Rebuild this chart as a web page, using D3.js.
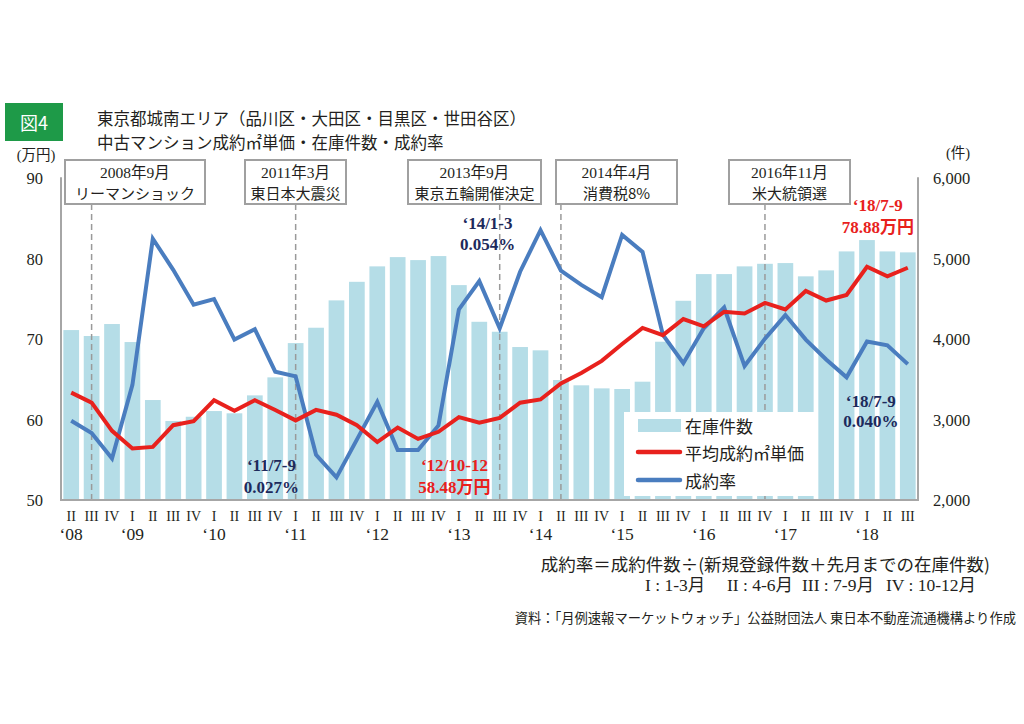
<!DOCTYPE html>
<html><head><meta charset="utf-8">
<script src="https://cdn.jsdelivr.net/npm/d3@7"></script>
<style>
html,body{margin:0;padding:0;background:#fff;}
svg{display:block;}
</style></head><body>
<svg id="chart" width="1024" height="724"></svg>
<script>
// ---------- data ----------
const quarterLabels = ["II","III","IV",
  "I","II","III","IV", "I","II","III","IV", "I","II","III","IV",
  "I","II","III","IV", "I","II","III","IV", "I","II","III","IV",
  "I","II","III","IV", "I","II","III","IV", "I","II","III","IV",
  "I","II","III"];
const yearLabels = ["‘08","‘09","‘10","‘11","‘12","‘13","‘14","‘15","‘16","‘17","‘18"];
const yearStartIndex = [0,3,7,11,15,19,23,27,31,35,39];

// 在庫件数 (件)
const stock = [4113,4039,4188,3964,3243,2982,3035,3106,3078,3301,
  3525,3951,4142,4482,4713,4905,5020,4983,5033,4672,
  4216,4092,3902,3861,3492,3426,3388,3380,3471,3968,
  4477,4809,4809,4905,4937,4946,4781,4855,5091,5232,
  5091,5079];
// 平均成約㎡単価 (万円)
const price = [63.35,62.1,58.6,56.4,56.6,59.3,59.8,62.4,61.1,62.4,
  61.2,59.9,61.2,60.6,59.3,57.2,59.0,57.6,58.48,60.3,
  59.6,60.2,62.1,62.5,64.5,65.8,67.3,69.4,71.4,70.5,
  72.5,71.6,73.4,73.2,74.5,73.7,76.0,74.8,75.5,79.0,
  77.8,78.88];
// 成約率 (%)
const rate = [0.0334,0.0321,0.0294,0.0372,0.0527,0.0494,0.0457,0.0463,0.0420,0.0431,
  0.0386,0.0381,0.0298,0.0274,0.0314,0.0354,0.0303,0.0303,0.0329,0.0452,
  0.0482,0.0432,0.0492,0.0536,0.0493,0.0478,0.0465,0.0531,0.0513,0.0425,
  0.0395,0.0432,0.0454,0.0392,0.0421,0.0446,0.0420,0.0399,0.0380,0.0418,
  0.0414,0.0394];

const leftTicks = [50,60,70,80,90];
const rightTicks = [2000,3000,4000,5000,6000];

const eventIndex = [1, 11, 21, 24, 34];
const eventDate = ["2008年9月","2011年3月","2013年9月","2014年4月","2016年11月"];
const eventName = ["リーマンショック","東日本大震災","東京五輪開催決定","消費税8%","米大統領選"];
const eventBox = [[65,205],[245,346],[408,541],[556,677],[729,850]];

const notes = [
  {i:13, dx:-65, l1:"‘11/7-9", l2:"0.027%", c:"navy"},
  {i:18, dx:16,  l1:"‘12/10-12", l2:"58.48万円", c:"red"},
  {i:23, dx:-53, l1:"‘14/1-3", l2:"0.054%", c:"navy", top:true},
  {i:41, dx:-30, l1:"‘18/7-9", l2:"78.88万円", c:"red", top2:true},
  {i:41, dx:-37, l1:"‘18/7-9", l2:"0.040%", c:"navy", mid:true}
];

// ---------- layout ----------
const L = 61, R = 918, T = 178.3, B = 500;
const C = {bar:"#b5dde7", red:"#e8211d", blue:"#4a7dbf", navy:"#1d2a5c", grid:"#a6a6a6", text:"#231f20", green:"#1e9a48"};
const serif = "'Liberation Serif','Times New Roman','Noto Sans CJK JP',serif";
const sans = "'Noto Sans CJK JP','Noto Sans',sans-serif";

const svg = d3.select("#chart");
const idx = d3.range(quarterLabels.length);
const x = d3.scaleBand().domain(idx).range([L, R]).paddingInner(0.23).paddingOuter(0.115);
const xc = i => x(i) + x.bandwidth()/2;
const yL = d3.scaleLinear().domain([50,90]).range([B, T]);
const yR = d3.scaleLinear().domain([2000,6000]).range([B, T]);
const yRate = d3.scaleLinear().domain([0.0250,0.0591]).range([B, T]);

// title
svg.append("rect").attr("x",5).attr("y",103).attr("width",58).attr("height",38).attr("fill",C.green);
svg.append("text").attr("x",34).attr("y",122).attr("text-anchor","middle").attr("dominant-baseline","central")
  .attr("font-family",sans).attr("font-size",18).attr("fill","#fff").text("図4");
svg.append("text").attr("x",97).attr("y",117.5).attr("dominant-baseline","central")
  .attr("font-family",sans).attr("font-size",16.5).attr("fill",C.text).text("東京都城南エリア（品川区・大田区・目黒区・世田谷区）");
svg.append("text").attr("x",97).attr("y",141.5).attr("dominant-baseline","central")
  .attr("font-family",sans).attr("font-size",16.5).attr("fill",C.text).text("中古マンション成約㎡単価・在庫件数・成約率");

// unit labels
svg.append("text").attr("x",36).attr("y",155).attr("text-anchor","middle").attr("dominant-baseline","central")
  .attr("font-family",serif).attr("font-size",14.5).attr("fill",C.text).text("(万円)");
svg.append("text").attr("x",958).attr("y",153).attr("text-anchor","middle").attr("dominant-baseline","central")
  .attr("font-family",serif).attr("font-size",14.5).attr("fill",C.text).text("(件)");

// bars
svg.append("g").selectAll("rect").data(idx).join("rect")
  .attr("x", i => x(i)).attr("width", x.bandwidth())
  .attr("y", i => yR(stock[i])).attr("height", i => B - yR(stock[i]))
  .attr("fill", C.bar);

// event dashed lines
svg.append("g").selectAll("line").data(eventIndex).join("line")
  .attr("x1", i => xc(i)).attr("x2", i => xc(i))
  .attr("y1", 204).attr("y2", B)
  .attr("stroke","#9a9a9a").attr("stroke-width",1.5).attr("stroke-dasharray","6,4");

// legend background (covers bars & dashed line)
const lg = svg.append("g");
lg.append("rect").attr("x",624).attr("y",412).attr("width",194).attr("height",84).attr("fill","#fff");

// lines
const lineP = d3.line().x(i => xc(i)).y(i => yL(price[i]));
const lineR = d3.line().x(i => xc(i)).y(i => yRate(rate[i]));
svg.append("path").attr("d", lineR(idx)).attr("fill","none").attr("stroke",C.blue).attr("stroke-width",4);
svg.append("path").attr("d", lineP(idx)).attr("fill","none").attr("stroke",C.red).attr("stroke-width",4);

// axes lines
svg.append("path").attr("d",`M${L},${T-1}V${B}H${R}V${T-1}`).attr("fill","none").attr("stroke",C.grid).attr("stroke-width",2);

// left ticks
const yAxisL = d3.axisLeft(yL).tickValues(leftTicks).tickSize(0).tickPadding(0);
const gl = svg.append("g").attr("transform",`translate(43,0)`).call(yAxisL);
gl.select(".domain").remove();
gl.selectAll("text").attr("font-family",serif).attr("font-size",16.5).attr("fill",C.text).attr("dy",null).attr("dominant-baseline","central");

// right ticks
const yAxisR = d3.axisRight(yR).tickValues(rightTicks).tickSize(0).tickPadding(0).tickFormat(d3.format(","));
const gr = svg.append("g").attr("transform",`translate(933,0)`).call(yAxisR);
gr.select(".domain").remove();
gr.selectAll("text").attr("font-family",serif).attr("font-size",16.5).attr("fill",C.text).attr("dy",null).attr("dominant-baseline","central");

// x axis quarters
const xAxis = d3.axisBottom(x).tickSize(0).tickPadding(0).tickFormat(i => quarterLabels[i]);
const gx = svg.append("g").attr("transform",`translate(0,516)`).call(xAxis);
gx.select(".domain").remove();
gx.selectAll("text").attr("font-family",serif).attr("font-size",14).attr("fill",C.text).attr("y",0).attr("dy",null).attr("dominant-baseline","central");

// year labels
svg.append("g").selectAll("text").data(yearLabels).join("text")
  .attr("x",(d,k) => xc(yearStartIndex[k])).attr("y",534)
  .attr("text-anchor","middle").attr("dominant-baseline","central")
  .attr("font-family",serif).attr("font-size",17.5).attr("fill",C.text).text(d => d);

// event boxes
const eg = svg.append("g");
eventBox.forEach((b,k) => {
  eg.append("rect").attr("x",b[0]).attr("y",160).attr("width",b[1]-b[0]).attr("height",44)
    .attr("fill","#fff").attr("stroke","#a0a0a0").attr("stroke-width",2);
  const cx = (b[0]+b[1])/2;
  eg.append("text").attr("x",cx).attr("y",172).attr("text-anchor","middle").attr("dominant-baseline","central")
    .attr("font-family",serif).attr("font-size",15.5).attr("fill",C.text).text(eventDate[k]);
  eg.append("text").attr("x",cx).attr("y",192).attr("text-anchor","middle").attr("dominant-baseline","central")
    .attr("font-family",sans).attr("font-size",15).attr("fill",C.text).text(eventName[k]);
});

// annotations
const ag = svg.append("g");
notes.forEach(n => {
  let y1 = 465, y2 = 487;
  if (n.top) { y1 = 223; y2 = 244; }
  if (n.top2) { y1 = 205; y2 = 227; }
  if (n.mid) { y1 = 401; y2 = 421; }
  const col = n.c === "red" ? C.red : C.navy;
  [[n.l1,y1],[n.l2,y2]].forEach(([t,yy]) => {
    ag.append("text").attr("x", xc(n.i)+n.dx).attr("y", yy).attr("text-anchor","middle").attr("dominant-baseline","central")
      .attr("font-family",serif).attr("font-weight","bold").attr("font-size",17).attr("fill",col).text(t);
  });
});

// legend items
lg.append("rect").attr("x",638).attr("y",419).attr("width",43).attr("height",13).attr("fill",C.bar);
lg.append("line").attr("x1",638).attr("x2",680).attr("y1",452).attr("y2",452).attr("stroke",C.red).attr("stroke-width",4.5).attr("stroke-linecap","round");
lg.append("line").attr("x1",638).attr("x2",680).attr("y1",480).attr("y2",480).attr("stroke",C.blue).attr("stroke-width",4.5).attr("stroke-linecap","round");
[["在庫件数",425],["平均成約㎡単価",452],["成約率",480]].forEach(([t,yy]) => {
  lg.append("text").attr("x",685).attr("y",yy).attr("dominant-baseline","central")
    .attr("font-family",sans).attr("font-size",17).attr("fill",C.text).text(t);
});

// bottom notes
svg.append("text").attr("x",990).attr("y",563).attr("text-anchor","end").attr("dominant-baseline","central")
  .attr("font-family",sans).attr("font-size",17.5).attr("fill",C.text).text("成約率＝成約件数÷(新規登録件数＋先月までの在庫件数)");
const qn = [["I : 1-3月",645],["II : 4-6月",727],["III : 7-9月",802],["IV : 10-12月",886]];
qn.forEach(([t,xx]) => {
  svg.append("text").attr("x",xx).attr("y",585).attr("dominant-baseline","central")
    .attr("font-family",serif).attr("font-size",17.5).attr("fill",C.text).text(t);
});
svg.append("text").attr("x",1016).attr("y",617).attr("text-anchor","end").attr("dominant-baseline","central")
  .attr("font-family",sans).attr("font-size",13.3).attr("fill",C.text).text("資料：「月例速報マーケットウォッチ」公益財団法人 東日本不動産流通機構より作成");
</script>
</body></html>
